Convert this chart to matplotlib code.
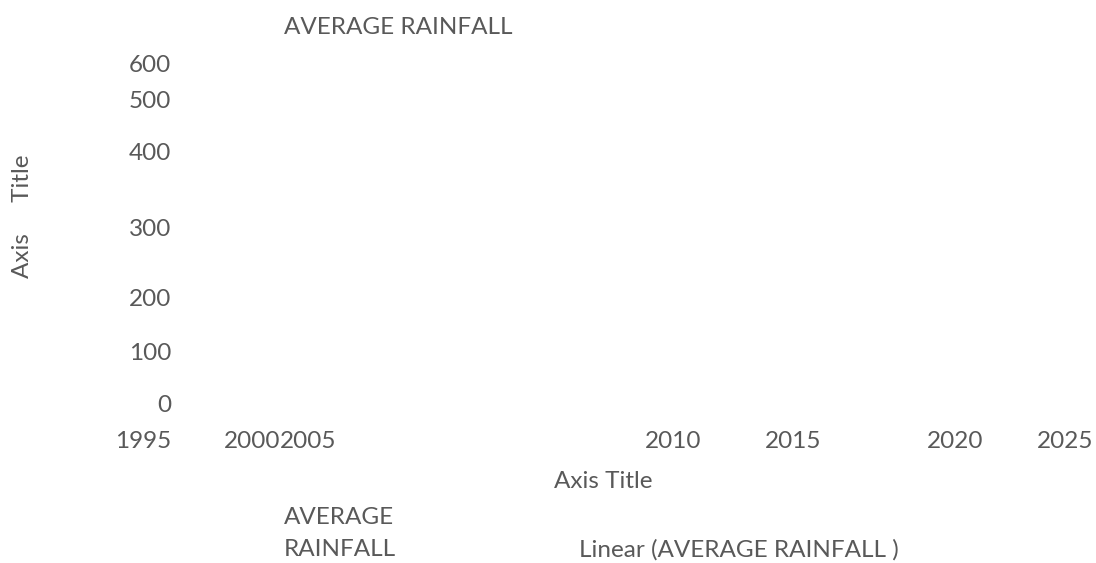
import matplotlib
matplotlib.use("Agg")
import matplotlib.pyplot as plt

# ---- data (labels) ----
title = "AVERAGE RAINFALL"
y_tick_labels = ["0", "100", "200", "300", "400", "500", "600"]
x_tick_labels = ["1995", "2000", "2005", "2010", "2015", "2020", "2025"]
x_axis_title = "Axis Title"
y_axis_title = "Axis     Title"
legend_series = ["AVERAGE", "RAINFALL"]
legend_trend = "Linear (AVERAGE RAINFALL )"

# ---- layout (pixel positions in the 1096x563 canvas) ----
W, H = 1096, 563
y_tick_pos = [404, 352, 298, 227, 152, 99, 63]
x_tick_pos = [143, 252, 308, 673, 793, 955, 1065]
ylabel_right = 171

COLOR = "#595959"
FONT = "Lato"
FS = 17.5

plt.rcParams["font.family"] = [FONT, "DejaVu Sans"]

fig = plt.figure(figsize=(W / 100, H / 100), dpi=100)
ax_left, ax_bottom = 100, 431
ax = fig.add_axes([ax_left / W, (H - ax_bottom) / H, (W - ax_left) / W, ax_bottom / H])
ax.set_xlim(ax_left, W)
ax.set_ylim(ax_bottom, 0)
for s in ax.spines.values():
    s.set_visible(False)
ax.set_yticks(y_tick_pos, y_tick_labels)
ax.set_xticks(x_tick_pos, x_tick_labels)
ax.tick_params(axis="both", length=0, colors=COLOR, labelsize=FS)
ax.tick_params(axis="y", pad=-(ylabel_right - ax_left) * 0.72)
ax.tick_params(axis="x", pad=0)
ax.set_facecolor("none")

# title
fig.text(284 / W, 1 - 28 / H, title, ha="left", va="center", color=COLOR, fontsize=FS)
# axis titles
fig.text(23 / W, 1 - 216 / H, y_axis_title, rotation=90, ha="center", va="center", color=COLOR, fontsize=FS)
fig.text(603 / W, 1 - 481 / H, x_axis_title, ha="center", va="center", color=COLOR, fontsize=FS)
# legend entries
fig.text(284 / W, 1 - 517 / H, legend_series[0], ha="left", va="center", color=COLOR, fontsize=FS)
fig.text(284 / W, 1 - 550 / H, legend_series[1], ha="left", va="center", color=COLOR, fontsize=FS)
fig.text(579 / W, 1 - 550 / H, legend_trend, ha="left", va="center", color=COLOR, fontsize=FS)

fig.savefig("out.png", dpi=100, facecolor="white")
